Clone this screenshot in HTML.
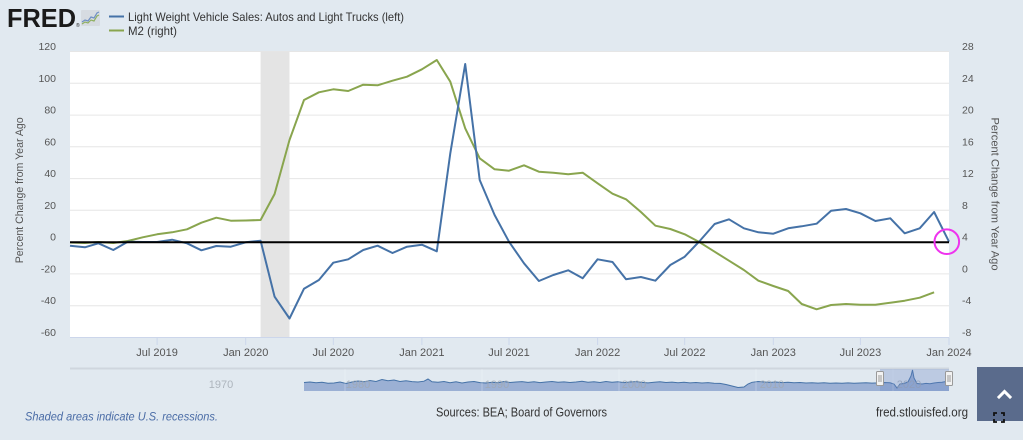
<!DOCTYPE html>
<html>
<head>
<meta charset="utf-8">
<style>
html,body{margin:0;padding:0;background:#e1e9f0;}
svg{display:block;}
text{font-family:"Liberation Sans",Arial,sans-serif;}
</style>
</head>
<body>
<svg width="1023" height="440" viewBox="0 0 1023 440" xmlns="http://www.w3.org/2000/svg">
<rect x="0" y="0" width="1023" height="440" fill="#e1e9f0"/>

<!-- Logo -->
<text x="7" y="27" font-size="26" font-weight="bold" fill="#1a1a1a" textLength="69" lengthAdjust="spacingAndGlyphs">FRED</text>
<text x="76" y="27" font-size="5" fill="#1a1a1a">®</text>
<rect x="81" y="10" width="19" height="16" fill="#d6dbe1" rx="1"/>
<polyline points="82,22 85,20 88,21 91,17 94,18 97,13 99,12" fill="none" stroke="#6f8fc4" stroke-width="1.2"/>
<polyline points="82,24 85,22 88,23 91,20 94,21 97,16 99,15" fill="none" stroke="#8fb060" stroke-width="1.2"/>

<!-- Legend -->
<line x1="109" y1="16.5" x2="124" y2="16.5" stroke="#4572a7" stroke-width="2"/>
<text x="128" y="21" font-size="12" fill="#333" textLength="276" lengthAdjust="spacingAndGlyphs">Light Weight Vehicle Sales: Autos and Light Trucks (left)</text>
<line x1="109" y1="30.5" x2="124" y2="30.5" stroke="#89a54e" stroke-width="2"/>
<text x="128" y="35" font-size="12" fill="#333" textLength="49" lengthAdjust="spacingAndGlyphs">M2 (right)</text>

<!-- Plot background -->
<rect x="70" y="51.5" width="879" height="286" fill="#ffffff"/>

<!-- Grid -->
<g stroke="#e6e6e6" stroke-width="1">
<line x1="70" y1="51.5" x2="949" y2="51.5"/>
<line x1="70" y1="83.3" x2="949" y2="83.3"/>
<line x1="70" y1="115.1" x2="949" y2="115.1"/>
<line x1="70" y1="146.8" x2="949" y2="146.8"/>
<line x1="70" y1="178.6" x2="949" y2="178.6"/>
<line x1="70" y1="210.3" x2="949" y2="210.3"/>
<line x1="70" y1="273.9" x2="949" y2="273.9"/>
<line x1="70" y1="305.7" x2="949" y2="305.7"/>
</g>

<!-- Recession -->
<rect x="260.6" y="51.5" width="28.9" height="286" fill="#e4e4e4"/>

<!-- Bottom axis line and ticks -->
<line x1="70" y1="337.5" x2="949" y2="337.5" stroke="#ccd6eb" stroke-width="1"/>
<g stroke="#ccd6eb" stroke-width="1">
<line x1="157.1" y1="337.5" x2="157.1" y2="345"/>
<line x1="245.7" y1="337.5" x2="245.7" y2="345"/>
<line x1="333.3" y1="337.5" x2="333.3" y2="345"/>
<line x1="421.9" y1="337.5" x2="421.9" y2="345"/>
<line x1="509" y1="337.5" x2="509" y2="345"/>
<line x1="597.6" y1="337.5" x2="597.6" y2="345"/>
<line x1="684.7" y1="337.5" x2="684.7" y2="345"/>
<line x1="773.3" y1="337.5" x2="773.3" y2="345"/>
<line x1="860.4" y1="337.5" x2="860.4" y2="345"/>
<line x1="949" y1="337.5" x2="949" y2="345"/>
</g>

<!-- Green series (M2) -->
<polyline fill="none" stroke="#89a54e" stroke-width="2" stroke-linejoin="round" points="70,242.5 84.9,243 98.4,242 113.3,243 127.8,241 142.7,237.3 157.1,234.3 172.1,232.3 187,229.3 201.4,222.7 216.3,217.7 230.8,220.7 245.7,220.5 260.6,220 274.6,194 289.5,140 304,100 318.9,92.3 333.3,89.3 348.2,91 363.2,84.7 377.6,85.3 392.5,80.7 407,76.7 421.9,69.3 436.8,60 450.3,81.7 465.2,128.3 479.7,158.3 494.6,169.3 509,170.7 524,165.3 538.9,171.7 553.3,172.7 568.2,174.3 582.7,172.7 597.6,183.3 612.5,193.7 626,199.3 640.9,212 655.4,225.7 670.3,229 684.7,234.3 699.7,242.3 714.6,251.7 729,260.7 743.9,270 758.4,280.7 773.3,286 788.2,291 801.7,304 816.6,309.3 831.1,305 846,304 860.4,304.7 875.4,304.7 890.3,302.7 904.7,300.7 919.7,297.7 934.1,292.3"/>

<!-- Blue series (vehicle sales) -->
<polyline fill="none" stroke="#4572a7" stroke-width="2" stroke-linejoin="round" points="70,245.7 84.9,247.3 98.4,243.3 113.3,250 127.8,241.7 142.7,242 157.1,242 172.1,239.7 187,243.3 201.4,250.3 216.3,246 230.8,246.7 245.7,242.3 260.6,240.7 274.6,296.7 289.5,318.5 304,288.7 318.9,280 333.3,262.7 348.2,259.3 363.2,250 377.6,245.7 392.5,253 407,246.7 421.9,244.7 436.8,251.3 450.3,153.3 465.2,64 479.7,180 494.6,215 509,241.7 524,263.3 538.9,281 553.3,275 568.2,270.3 582.7,278.3 597.6,259.3 612.5,262 626,279.3 640.9,277 655.4,280.7 670.3,265 684.7,256.7 699.7,241 714.6,224 729,219.3 743.9,228.3 758.4,232.3 773.3,233.7 788.2,228.3 801.7,226.3 816.6,223.7 831.1,210.7 846,209 860.4,213.3 875.4,221 890.3,218.3 904.7,233.3 919.7,228.3 934.1,212 949,241.7"/>

<!-- Zero line -->
<line x1="70" y1="242.2" x2="949" y2="242.2" stroke="#000" stroke-width="2"/>

<!-- Magenta circle -->
<circle cx="946.8" cy="241.7" r="12.3" fill="none" stroke="#ee33ee" stroke-width="2"/>

<!-- Left axis labels -->
<g font-size="10.5" fill="#555" text-anchor="end">
<text x="56" y="50">120</text>
<text x="56" y="81.8">100</text>
<text x="56" y="113.6">80</text>
<text x="56" y="145.3">60</text>
<text x="56" y="177.1">40</text>
<text x="56" y="208.8">20</text>
<text x="56" y="240.6">0</text>
<text x="56" y="272.4">-20</text>
<text x="56" y="304.2">-40</text>
<text x="56" y="336">-60</text>
</g>

<!-- Right axis labels -->
<g font-size="10.5" fill="#555" text-anchor="start">
<text x="962" y="50">28</text>
<text x="962" y="81.8">24</text>
<text x="962" y="113.6">20</text>
<text x="962" y="145.3">16</text>
<text x="962" y="177.1">12</text>
<text x="962" y="208.8">8</text>
<text x="962" y="240.6">4</text>
<text x="962" y="272.4">0</text>
<text x="962" y="304.2">-4</text>
<text x="962" y="336">-8</text>
</g>

<!-- Axis titles -->
<text transform="translate(23,190.3) rotate(-90)" font-size="11" fill="#555" text-anchor="middle" textLength="146" lengthAdjust="spacingAndGlyphs">Percent Change from Year Ago</text>
<text transform="translate(991.5,194) rotate(90)" font-size="11" fill="#555" text-anchor="middle" textLength="153" lengthAdjust="spacingAndGlyphs">Percent Change from Year Ago</text>

<!-- X axis labels -->
<g font-size="11" fill="#555" text-anchor="middle">
<text x="157.1" y="356">Jul 2019</text>
<text x="245.7" y="356">Jan 2020</text>
<text x="333.3" y="356">Jul 2020</text>
<text x="421.9" y="356">Jan 2021</text>
<text x="509" y="356">Jul 2021</text>
<text x="597.6" y="356">Jan 2022</text>
<text x="684.7" y="356">Jul 2022</text>
<text x="773.3" y="356">Jan 2023</text>
<text x="860.4" y="356">Jul 2023</text>
<text x="949" y="356">Jan 2024</text>
</g>

<!-- Navigator -->
<line x1="70" y1="368.5" x2="949" y2="368.5" stroke="#cfd6de" stroke-width="2"/>
<path fill="#9bb0d4" stroke="none" d="M304,391 L304,382.5 310,382 316,382.8 322,382.3 328,383.2 334,383 340,382 346,383.5 352,382 358,381 364,381.8 370,380.5 376,381.5 382,379.5 388,380.8 394,380 400,381.5 406,380.8 412,381.6 418,382 424,381.2 428,379 432,381.8 438,382.3 444,381.5 450,382.8 456,381.7 462,383 468,382 474,381.5 480,382.6 486,383 492,382.2 498,382.8 504,381.5 510,382.5 516,382 522,381.6 528,382.4 534,381.8 540,382.6 546,382 552,381.5 558,382.3 564,381.9 570,382.5 576,382 582,381.3 588,382.2 594,381.8 600,382.5 606,381.5 612,382.2 618,381.8 624,382.6 630,382 636,381.6 642,382.4 648,382.9 654,382.2 660,381.7 666,382.5 672,382.1 678,382.8 684,382.3 690,382.9 696,382.5 702,383 708,382.6 714,383.2 720,383.4 726,384.5 732,386 738,387.5 744,387 748,384 752,382.3 758,381.5 764,382 770,382.4 776,382 782,382.6 788,382.3 794,382.8 800,382.5 806,383 812,382.7 818,383.1 824,382.8 830,383.3 836,383 842,383.2 848,382.9 854,383.3 860,383 866,382.7 872,383.1 878,382.9 884,382.5 890,382.8 894,384 897,388 900,384 904,383.5 908,382 911,376 912.5,370 914,378 917,383.5 922,384 926,383.4 930,383.8 934,383 938,382.5 942,382.2 946,381.5 949,381.8 L949,391 Z"/>
<polyline fill="none" stroke="#4572a7" stroke-width="1" points="304,382.5 310,382 316,382.8 322,382.3 328,383.2 334,383 340,382 346,383.5 352,382 358,381 364,381.8 370,380.5 376,381.5 382,379.5 388,380.8 394,380 400,381.5 406,380.8 412,381.6 418,382 424,381.2 428,379 432,381.8 438,382.3 444,381.5 450,382.8 456,381.7 462,383 468,382 474,381.5 480,382.6 486,383 492,382.2 498,382.8 504,381.5 510,382.5 516,382 522,381.6 528,382.4 534,381.8 540,382.6 546,382 552,381.5 558,382.3 564,381.9 570,382.5 576,382 582,381.3 588,382.2 594,381.8 600,382.5 606,381.5 612,382.2 618,381.8 624,382.6 630,382 636,381.6 642,382.4 648,382.9 654,382.2 660,381.7 666,382.5 672,382.1 678,382.8 684,382.3 690,382.9 696,382.5 702,383 708,382.6 714,383.2 720,383.4 726,384.5 732,386 738,387.5 744,387 748,384 752,382.3 758,381.5 764,382 770,382.4 776,382 782,382.6 788,382.3 794,382.8 800,382.5 806,383 812,382.7 818,383.1 824,382.8 830,383.3 836,383 842,383.2 848,382.9 854,383.3 860,383 866,382.7 872,383.1 878,382.9 884,382.5 890,382.8 894,384 897,388 900,384 904,383.5 908,382 911,376 912.5,370 914,378 917,383.5 922,384 926,383.4 930,383.8 934,383 938,382.5 942,382.2 946,381.5 949,381.8"/>
<g stroke="#ffffff" stroke-opacity="0.25" stroke-width="1">
<line x1="345" y1="369" x2="345" y2="391"/>
<line x1="482" y1="369" x2="482" y2="391"/>
<line x1="619" y1="369" x2="619" y2="391"/>
<line x1="756" y1="369" x2="756" y2="391"/>
<line x1="893" y1="369" x2="893" y2="391"/>
</g>
<g font-size="11" fill="#a0a8b0" fill-opacity="0.8" text-anchor="middle">
<text x="221" y="388">1970</text>
<text x="358" y="388">1980</text>
<text x="497" y="388">1990</text>
<text x="634" y="388">2000</text>
<text x="772" y="388">2010</text>
<text x="909" y="388">2020</text>
</g>
<rect x="880" y="369" width="69" height="22" fill="rgba(102,133,194,0.3)"/>
<g>
<rect x="876.5" y="371.5" width="7" height="14" fill="#f2f2f2" stroke="#999" stroke-width="1" rx="1"/>
<line x1="879" y1="375" x2="879" y2="382" stroke="#999" stroke-width="1"/>
<line x1="881" y1="375" x2="881" y2="382" stroke="#999" stroke-width="1"/>
<rect x="945.5" y="371.5" width="7" height="14" fill="#f2f2f2" stroke="#999" stroke-width="1" rx="1"/>
<line x1="948" y1="375" x2="948" y2="382" stroke="#999" stroke-width="1"/>
<line x1="950" y1="375" x2="950" y2="382" stroke="#999" stroke-width="1"/>
</g>

<!-- Footer -->
<text x="25" y="420.5" font-size="12" font-style="italic" fill="#4a6ca6" textLength="193" lengthAdjust="spacingAndGlyphs">Shaded areas indicate U.S. recessions.</text>
<text x="436" y="416.5" font-size="12.5" fill="#333" textLength="171" lengthAdjust="spacingAndGlyphs">Sources: BEA; Board of Governors</text>
<text x="876" y="416.5" font-size="12.5" fill="#333" textLength="92" lengthAdjust="spacingAndGlyphs">fred.stlouisfed.org</text>

<!-- Button -->
<rect x="977" y="367" width="46" height="54" fill="#5a6b8c"/>
<polyline points="999,397 1004.5,391.5 1010,397" fill="none" stroke="#ffffff" stroke-width="3" stroke-linecap="square"/>
<g fill="none" stroke="#111" stroke-width="1.8">
<polyline points="994,416 994,413 997,413"/>
<polyline points="1001,413 1004,413 1004,416"/>
<polyline points="994,419 994,422 997,422"/>
<polyline points="1001,422 1004,422 1004,419"/>
</g>
</svg>
</body>
</html>
